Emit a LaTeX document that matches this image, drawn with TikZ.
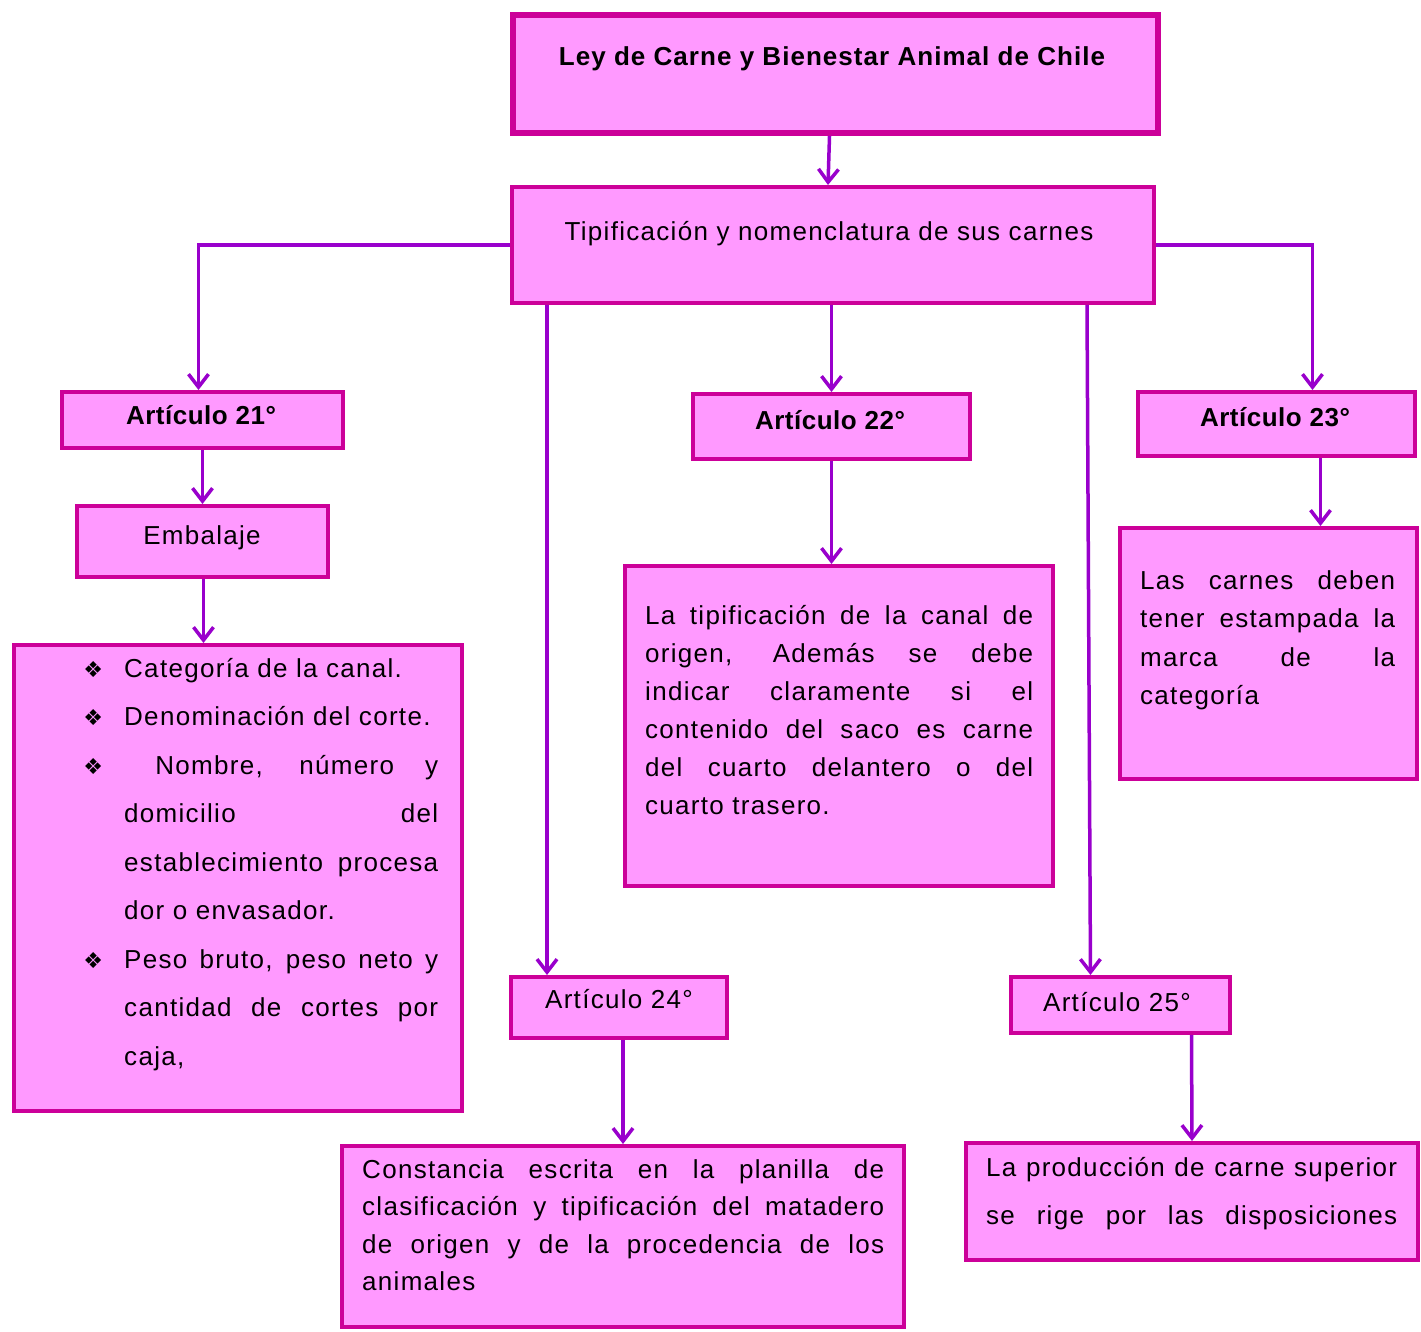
\documentclass[tikz,border=0pt]{standalone}
\usepackage{fontspec}
\setmainfont{Liberation Sans}
\newfontfamily\bodyfont[LetterSpace=5]{Liberation Sans}
\newfontfamily\boldfont[LetterSpace=2]{Liberation Sans Bold}
\newfontfamily\titlefont[LetterSpace=4]{Liberation Sans Bold}
\newfontfamily\symfont{DejaVu Sans}
\usetikzlibrary{arrows.meta}
\definecolor{boxfill}{HTML}{FF99FF}
\definecolor{boxline}{HTML}{CC0099}
\definecolor{arr}{HTML}{9900CC}
\newcommand\bfs{\bodyfont\fontsize{26}{30}\selectfont}
\newcommand\bbs{\boldfont\fontsize{26}{30}\selectfont}
\newcommand\tts{\titlefont\fontsize{26}{30}\selectfont}
\newcommand\jl[2]{\makebox[#1pt][s]{#2}}
\newcommand\bul{\leavevmode\llap{{\symfont\fontsize{22}{24}\selectfont ❖}\hspace{21pt}}}
\begin{document}
\begin{tikzpicture}[x=1pt,y=-1pt,
  box/.style={draw=boxline, fill=boxfill, line width=4pt, inner sep=0pt, anchor=north west},
  lbl/.style={anchor=base, inner sep=0pt, font=\bfs},
  blbl/.style={anchor=base, inner sep=0pt, font=\bbs},
  para/.style={anchor=base west, inner sep=0pt},
  conn/.style={draw=arr, line width=3.5pt, -{Straight Barb[length=13pt,width=20pt]}}]
\useasboundingbox[fill=white] (0,0) rectangle (1421,1331);
% boxes
\node[box, line width=6pt, minimum width=645pt, minimum height=118pt] (title) at (510,12) {};
\node[box, minimum width=642pt, minimum height=116pt] (tip) at (510,185) {};
\node[box, minimum width=281pt, minimum height=56pt] (a21) at (60,390) {};
\node[box, minimum width=251pt, minimum height=71pt] (emb) at (75,504) {};
\node[box, minimum width=448pt, minimum height=466pt] (lst) at (12,643) {};
\node[box, minimum width=277pt, minimum height=65pt] (a22) at (691,392) {};
\node[box, minimum width=428pt, minimum height=320pt] (t22) at (623,564) {};
\node[box, minimum width=277pt, minimum height=64pt] (a23) at (1136,390) {};
\node[box, minimum width=297pt, minimum height=251pt] (t23) at (1118,526) {};
\node[box, minimum width=216pt, minimum height=61pt] (a24) at (509,975) {};
\node[box, minimum width=562pt, minimum height=181pt] (t24) at (340,1144) {};
\node[box, minimum width=219pt, minimum height=56pt] (a25) at (1009,975) {};
\node[box, minimum width=452pt, minimum height=117pt] (t25) at (964,1141) {};
% labels
\node[blbl, font=\tts] (titlet) at (832,65) {Ley de Carne y Bienestar Animal de Chile};
\node[lbl] (tipt) at (829,240) {Tipificación y nomenclatura de sus carnes};
\node[blbl] (a21t) at (201,424) {Artículo 21°};
\node[lbl] (embt) at (202,544) {Embalaje};
\node[blbl] (a22t) at (830,429) {Artículo 22°};
\node[blbl] (a23t) at (1275,426) {Artículo 23°};
\node[lbl] (a24t) at (619,1008) {Artículo 24°};
\node[lbl] (a25t) at (1117,1011) {Artículo 25°};
% paragraphs
\node[para] (lstt) at (124,677) {\parbox[t]{314pt}{\bodyfont\fontsize{26}{48.5}\selectfont
\bul Categoría de la canal.\\
\bul Denominación del corte.\\
\bul\jl{314}{\ Nombre, número y}\\
\jl{314}{domicilio del}\\
\jl{314}{establecimiento procesa}\\
dor o envasador.\\
\bul\jl{314}{Peso bruto, peso neto y}\\
\jl{314}{cantidad de cortes por}\\
caja,}};
\node[para] (t22t) at (645,624) {\parbox[t]{388pt}{\bodyfont\fontsize{26}{38}\selectfont
\jl{388}{La tipificación de la canal de}\\
\jl{388}{origen, Además se debe}\\
\jl{388}{indicar claramente si el}\\
\jl{388}{contenido del saco es carne}\\
\jl{388}{del cuarto delantero o del}\\
cuarto trasero.}};
\node[para] (t23t) at (1140,589) {\parbox[t]{255pt}{\bodyfont\fontsize{26}{38.5}\selectfont
\jl{255}{Las carnes deben}\\
\jl{255}{tener estampada la}\\
\jl{255}{marca de la}\\
categoría}};
\node[para] (t24t) at (362,1178) {\parbox[t]{522pt}{\bodyfont\fontsize{26}{37.5}\selectfont
\jl{522}{Constancia escrita en la planilla de}\\
\jl{522}{clasificación y tipificación del matadero}\\
\jl{522}{de origen y de la procedencia de los}\\
animales}};
\node[para] (t25t) at (986,1176) {\parbox[t]{411pt}{\bodyfont\fontsize{26}{48}\selectfont
\jl{411}{La producción de carne superior}\\
\jl{411}{se rige por las disposiciones}}};
% connectors
\draw[conn] ([xshift=-6pt]title.south) -- ([xshift=-5pt]tip.north);
\draw[conn] (tip.west) -| ([xshift=-4pt]a21.north);
\draw[conn] (tip.east) -| ([xshift=36pt]a23.north);
\draw[conn] (a21.south) -- (emb.north);
\draw[conn] ([xshift=1pt]emb.south) -- ([xshift=1pt]emb.south |- lst.north);
\draw[conn] ([xshift=37pt]tip.south west) -- ([xshift=37pt]tip.south west |- a24.north);
\draw[conn] (tip.south -| a22.north) -- (a22.north);
\draw[conn] (a22.south) -- (a22.south |- t22.north);
\draw[conn] ([xshift=-69pt]tip.south east) -- ([xshift=-30pt]a25.north);
\draw[conn] ([xshift=44pt]a23.south) -- ([xshift=44pt]a23.south |- t23.north);
\draw[conn] ([xshift=4pt]a24.south) -- ([xshift=4pt]a24.south |- t24.north);
\draw[conn] ([xshift=71pt]a25.south) -- (t25.north);
\end{tikzpicture}
\end{document}
